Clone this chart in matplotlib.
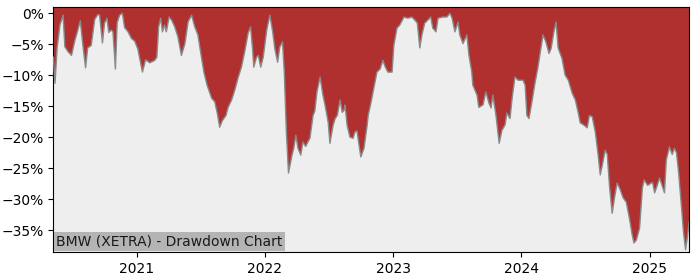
import matplotlib
matplotlib.use("Agg")
import matplotlib.pyplot as plt
import matplotlib.dates as mdates
from matplotlib.ticker import FuncFormatter, MultipleLocator
import pandas as pd

dates = [
    "2020-05-08", "2020-05-13", "2020-05-19", "2020-05-27", "2020-06-05", "2020-06-10",
    "2020-06-19", "2020-06-29", "2020-07-08", "2020-07-17", "2020-07-24", "2020-07-31",
    "2020-08-08", "2020-08-14", "2020-08-24", "2020-09-03", "2020-09-12", "2020-09-17",
    "2020-09-25", "2020-10-01", "2020-10-08", "2020-10-13", "2020-10-20", "2020-10-25",
    "2020-11-01", "2020-11-06", "2020-11-13", "2020-11-21", "2020-11-27", "2020-12-07",
    "2020-12-17", "2020-12-26", "2021-01-04", "2021-01-17", "2021-01-26", "2021-02-07",
    "2021-02-21", "2021-02-27", "2021-03-04", "2021-03-10", "2021-03-15", "2021-03-21",
    "2021-03-26", "2021-04-03", "2021-04-10", "2021-04-19", "2021-04-28", "2021-05-08",
    "2021-05-18", "2021-05-27", "2021-06-06", "2021-06-15", "2021-06-24", "2021-07-04",
    "2021-07-11", "2021-07-20", "2021-08-02", "2021-08-11", "2021-08-18", "2021-08-25",
    "2021-09-02", "2021-09-12", "2021-09-18", "2021-09-28", "2021-10-07", "2021-10-17",
    "2021-10-26", "2021-11-05", "2021-11-14", "2021-11-21", "2021-11-27", "2021-11-30",
    "2021-12-08", "2021-12-13", "2021-12-20", "2021-12-27", "2022-01-06", "2022-01-15",
    "2022-01-23", "2022-01-29", "2022-02-06", "2022-02-12", "2022-02-20", "2022-02-25",
    "2022-03-03", "2022-03-09", "2022-03-19", "2022-03-24", "2022-03-30", "2022-04-05",
    "2022-04-13", "2022-04-19", "2022-04-27", "2022-05-03", "2022-05-09", "2022-05-18",
    "2022-05-23", "2022-05-29", "2022-06-07", "2022-06-15", "2022-06-21", "2022-06-30",
    "2022-07-05", "2022-07-14", "2022-07-20", "2022-07-26", "2022-08-03", "2022-08-09",
    "2022-08-14", "2022-08-17", "2022-08-23", "2022-08-31", "2022-09-09", "2022-09-14",
    "2022-09-20", "2022-09-26", "2022-10-01", "2022-10-10", "2022-10-19", "2022-10-22",
    "2022-10-30", "2022-11-05", "2022-11-16", "2022-11-25", "2022-12-03", "2022-12-09",
    "2022-12-17", "2022-12-29", "2023-01-03", "2023-01-12", "2023-01-20", "2023-02-01",
    "2023-02-12", "2023-02-23", "2023-03-04", "2023-03-11", "2023-03-18", "2023-03-24",
    "2023-04-01", "2023-04-10", "2023-04-18", "2023-04-24", "2023-05-03", "2023-05-09",
    "2023-05-23", "2023-06-03", "2023-06-12", "2023-06-18", "2023-06-26", "2023-07-05",
    "2023-07-10", "2023-07-19", "2023-07-30", "2023-08-05", "2023-08-13", "2023-08-16",
    "2023-08-28", "2023-09-02", "2023-09-14", "2023-09-22", "2023-10-01", "2023-10-07",
    "2023-10-12", "2023-10-21", "2023-10-30", "2023-11-07", "2023-11-16", "2023-11-21",
    "2023-11-30", "2023-12-06", "2023-12-14", "2023-12-23", "2024-01-06", "2024-01-12",
    "2024-01-17", "2024-01-23", "2024-01-31", "2024-02-09", "2024-02-17", "2024-02-26",
    "2024-03-03", "2024-03-11", "2024-03-20", "2024-03-26", "2024-04-03", "2024-04-09",
    "2024-04-15", "2024-04-26", "2024-05-05", "2024-05-14", "2024-05-25", "2024-06-03",
    "2024-06-11", "2024-06-17", "2024-06-26", "2024-07-07", "2024-07-13", "2024-07-21",
    "2024-07-30", "2024-08-07", "2024-08-13", "2024-08-19", "2024-08-27", "2024-09-02",
    "2024-09-08", "2024-09-16", "2024-09-22", "2024-09-30", "2024-10-09", "2024-10-17",
    "2024-10-26", "2024-11-04", "2024-11-12", "2024-11-17", "2024-11-24", "2024-12-03",
    "2024-12-11", "2024-12-16", "2024-12-26", "2025-01-03", "2025-01-09", "2025-01-15",
    "2025-01-21", "2025-01-29", "2025-02-06", "2025-02-12", "2025-02-17", "2025-02-26",
    "2025-03-06", "2025-03-12", "2025-03-18", "2025-03-24", "2025-04-01", "2025-04-07",
    "2025-04-13", "2025-04-19", "2025-04-23",
]

drawdown_pct = [
    -7.1, -11.3, -5.6, -1.9, -0.3, -5.4,
    -6.2, -6.8, -4.5, -2.7, -1.2, -5.0,
    -8.8, -5.6, -5.2, -1.0, -0.2, -0.3,
    -4.8, -1.6, -0.8, -3.1, -2.7, -3.0,
    -9.0, -1.5, -0.3, 0.0, -2.3, -3.0,
    -4.1, -4.5, -5.8, -9.5, -7.5, -8.0,
    -7.6, -7.1, -2.2, -0.8, -3.0, -1.9,
    -3.0, -0.6, -1.1, -2.2, -3.8, -6.8,
    -4.9, -1.4, -0.3, -2.2, -3.5, -7.1,
    -9.5, -11.6, -13.7, -14.3, -16.1, -18.4,
    -17.3, -16.5, -15.2, -14.0, -12.4, -10.3,
    -8.7, -6.0, -3.2, -2.2, -6.0, -8.7,
    -7.1, -6.8, -8.7, -7.1, -2.7, -0.3,
    -3.0, -5.7, -7.9, -5.5, -4.6, -9.5,
    -19.2, -25.8, -22.9, -21.8, -19.7, -21.8,
    -22.9, -20.8, -21.5, -20.8, -20.2, -16.5,
    -15.8, -12.7, -10.3, -13.2, -14.8, -17.6,
    -21.0, -18.1, -17.0, -16.5, -14.0, -16.0,
    -15.7, -14.8, -18.1, -20.0, -20.2, -19.2,
    -19.0, -21.3, -23.2, -21.8, -18.1, -16.5,
    -14.4, -12.7, -9.5, -9.0, -7.6, -8.6,
    -9.5, -9.5, -5.2, -2.4, -1.9, -0.6,
    -0.8, -0.6, -1.1, -1.6, -5.6, -3.5,
    -1.6, -1.1, -0.6, -2.4, -3.0, -0.8,
    -0.6, -0.6, 0.0, -0.8, -3.0, -1.4,
    -3.5, -4.9, -3.5, -6.8, -9.5, -11.6,
    -13.2, -15.2, -14.8, -12.7, -14.5, -15.3,
    -13.2, -16.5, -21.0, -18.9, -18.0, -16.1,
    -17.0, -13.7, -10.3, -10.8, -10.8, -11.6,
    -16.5, -17.0, -14.4, -11.3, -8.9, -5.6,
    -3.5, -4.6, -6.5, -5.7, -3.0, -1.4,
    -5.6, -7.3, -10.0, -10.8, -12.9, -14.0,
    -16.0, -17.7, -18.0, -18.5, -16.5, -16.7,
    -19.2, -22.9, -26.1, -24.5, -22.1, -22.8,
    -27.7, -32.3, -30.0, -27.4, -28.5, -29.8,
    -30.5, -33.1, -35.8, -37.1, -36.6, -34.7,
    -28.2, -26.9, -27.8, -27.5, -27.3, -29.0,
    -28.0, -26.6, -28.0, -29.0, -23.7, -21.6,
    -22.8, -21.8, -22.5, -25.6, -31.0, -35.3,
    -38.2, -35.8, -33.7,
]

year_ticks = ["2021", "2022", "2023", "2024", "2025"]
title_text = "BMW (XETRA) - Drawdown Chart"

x = pd.to_datetime(dates)
y = [v / 100.0 for v in drawdown_pct]

fig = plt.figure(figsize=(7, 2.8), dpi=100)
ax = fig.add_axes([0.0761, 0.0989, 0.9083, 0.8751])
ax.set_facecolor("#eeeeee")

ax.fill_between(x, y, 1.0, color="#b03030", linewidth=0, zorder=2)
ax.plot(x, y, color="#8a8a8a", linewidth=1.0, zorder=3)

ax.set_xlim(x[0], x[-1])
ax.set_ylim(-0.386, 0.0097)

ax.yaxis.set_major_locator(MultipleLocator(0.05))
ax.yaxis.set_major_formatter(FuncFormatter(
    lambda v, p: ("%d%%" % round(v * 100)).replace("-", "\u2212")))
ax.set_xticks(pd.to_datetime([t + "-01-01" for t in year_ticks]))
ax.set_xticklabels(year_ticks)
ax.tick_params(labelsize=10)

ax.annotate(title_text, xy=(0, 0), xycoords="axes fraction",
            xytext=(2.2, 2.6), textcoords="offset points",
            ha="left", va="bottom", fontsize=10, color="#1a1a1a",
            bbox=dict(boxstyle="square,pad=0.2", facecolor="#b4b4b4",
                      edgecolor="none"), zorder=5)

fig.savefig("out.png", dpi=100)
